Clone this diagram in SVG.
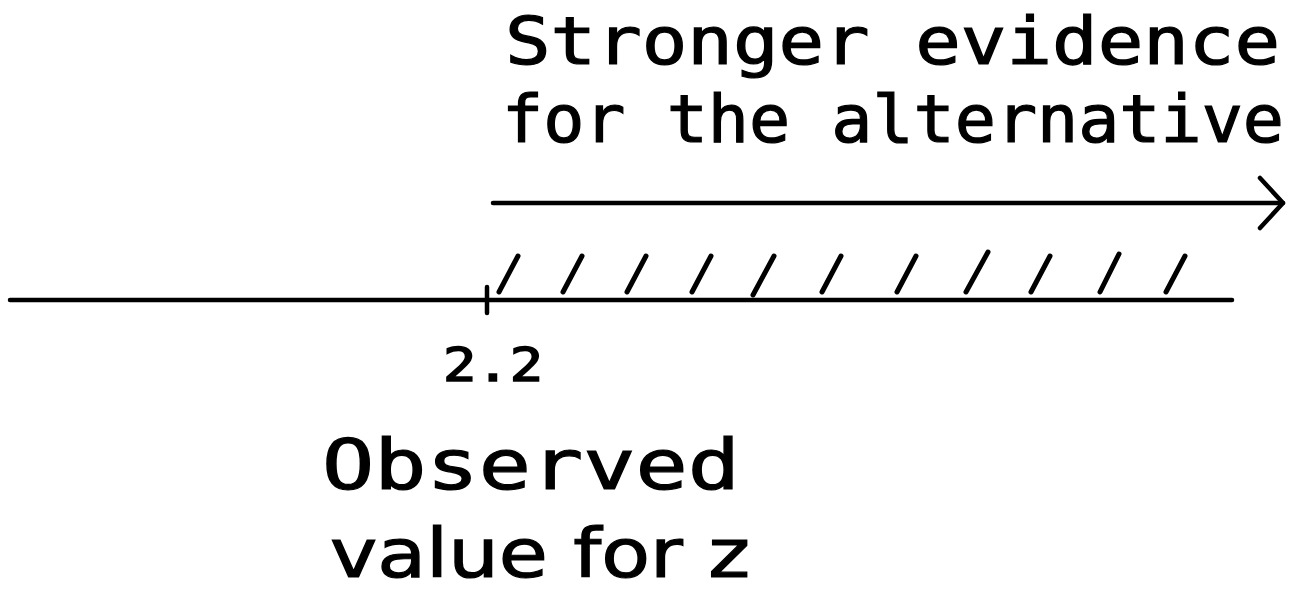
<svg xmlns="http://www.w3.org/2000/svg" width="1292" height="600" viewBox="0 0 1292 600">
<style>
.t{font-family:"DejaVu Sans Mono","Liberation Mono",monospace;fill:#000;stroke:#000;stroke-width:1.2}
.p{font-family:"DejaVu Sans","Liberation Sans",sans-serif}
.ln{stroke:#000;stroke-width:4.5;fill:none;stroke-linecap:round;stroke-linejoin:round}
.h{stroke:#000;stroke-width:5;fill:none;stroke-linecap:round}
</style>
<rect width="1292" height="600" fill="#fff"/>
<g id="label-evidence">
<text class="t" x="505" y="64" font-size="66" textLength="775" lengthAdjust="spacingAndGlyphs">Stronger evidence</text>
<text class="t" x="502" y="142" font-size="66" textLength="782" lengthAdjust="spacingAndGlyphs">for the alternative</text>
</g>
<g id="connectors">
<line class="ln" x1="493" y1="203" x2="1283" y2="203"/>
<polyline class="ln" points="1260,178 1283,203 1260,228"/>
<line class="ln" x1="10" y1="300" x2="1232" y2="300"/>
<line class="ln" x1="487" y1="287" x2="487" y2="313"/>
</g>
<g id="hatching">
<line class="h" x1="499" y1="292" x2="518" y2="256"/>
<line class="h" x1="563" y1="292" x2="582" y2="256"/>
<line class="h" x1="627" y1="292" x2="646" y2="256"/>
<line class="h" x1="692" y1="292" x2="711" y2="256"/>
<line class="h" x1="753" y1="295" x2="774" y2="256"/>
<line class="h" x1="822" y1="292" x2="841" y2="256"/>
<line class="h" x1="897" y1="292" x2="916" y2="256"/>
<line class="h" x1="966" y1="292" x2="988" y2="252"/>
<line class="h" x1="1031" y1="292" x2="1050" y2="256"/>
<line class="h" x1="1100" y1="292" x2="1119" y2="254"/>
<line class="h" x1="1166" y1="292" x2="1185" y2="256"/>
</g>
<g id="tick-label">
<text class="t" x="443" y="381" font-size="46" textLength="100" lengthAdjust="spacingAndGlyphs" style="stroke-width:1.6">2.2</text>
</g>
<g id="label-observed">
<text class="t" x="322" y="489" font-size="70" textLength="418" lengthAdjust="spacingAndGlyphs">Observed</text>
<text class="t p" x="330" y="577" font-size="68" textLength="420" lengthAdjust="spacingAndGlyphs">value for z</text>
</g>
</svg>
